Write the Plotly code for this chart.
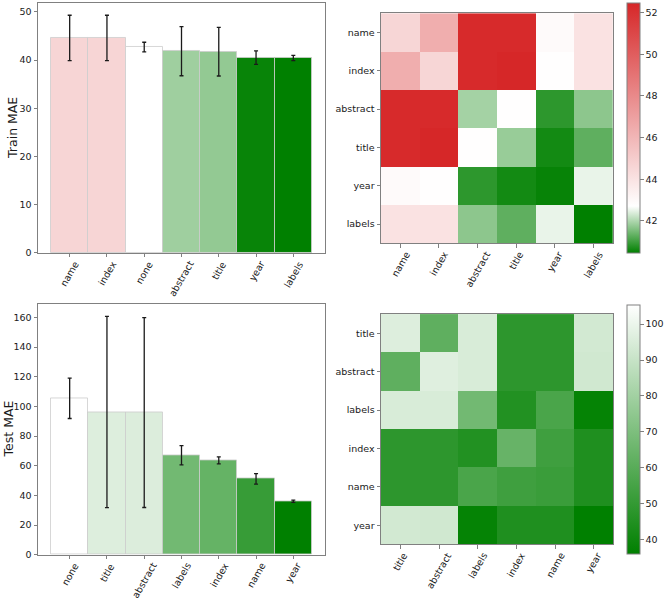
import plotly.graph_objects as go

# ---------------- data ----------------
train_order = ["name", "index", "none", "abstract", "title", "year", "labels"]
train_mae = [44.6, 44.6, 42.7, 41.85, 41.75, 40.52, 40.45]
train_err = [4.7, 4.7, 1.0, 5.1, 5.05, 1.4, 0.55]

test_order = ["none", "title", "abstract", "labels", "index", "name", "year"]
test_mae = [105.4, 96.2, 95.8, 67.0, 63.6, 51.1, 36.0]
test_err = [13.6, 64.5, 64.0, 6.5, 2.4, 3.6, 0.8]

train_feats = ["name", "index", "abstract", "title", "year", "labels"]
train_pair = [
    [44.55, 46.36, 52.30, 52.30, 42.92, 44.00],
    [46.36, 44.55, 52.30, 52.45, 42.75, 44.00],
    [52.30, 52.30, 41.90, 42.75, 40.85, 41.69],
    [52.30, 52.45, 42.75, 41.79, 40.62, 41.29],
    [42.92, 42.75, 40.85, 40.62, 40.51, 42.51],
    [44.00, 44.00, 41.69, 41.29, 42.51, 40.45],
]

test_feats = ["title", "abstract", "labels", "index", "name", "year"]
test_pair = [
    [96.2, 61.9, 94.8, 48.2, 48.2, 93.2],
    [61.9, 96.6, 94.8, 48.2, 48.2, 92.6],
    [94.8, 94.8, 67.0, 45.3, 56.1, 37.4],
    [48.2, 48.2, 45.3, 64.0, 53.1, 44.4],
    [48.2, 48.2, 56.1, 53.1, 51.8, 44.4],
    [93.2, 92.6, 37.4, 44.4, 44.4, 36.0],
]

# ---------------- styling ----------------
FONT = "DejaVu Sans"
TXT = "#1a1a1a"
SPINE = "#808080"
GREEN = "rgb(0,128,0)"
WHITE = "rgb(255,255,255)"
RED = "rgb(214,39,40)"
W, H = 665, 605


def px(x):
    return x / W


def py(y):
    return 1 - y / H


def scale_for(values_lists, none_val):
    allv = [v for vs in values_lists for v in vs]
    lo, hi = min(allv), max(max(allv), none_val)
    wpos = (none_val - lo) / (hi - lo)
    if wpos >= 0.999:
        cs = [[0, GREEN], [1, WHITE]]
    else:
        cs = [[0, GREEN], [wpos, WHITE], [1, RED]]
    return lo, hi, cs


none_train = train_mae[train_order.index("none")]
none_test = test_mae[test_order.index("none")]
tr_lo, tr_hi, tr_cs = scale_for([train_mae] + train_pair, none_train)
te_lo, te_hi, te_cs = scale_for([test_mae] + test_pair, none_test)

fig = go.Figure()

# bars
fig.add_trace(go.Bar(
    x=train_order, y=train_mae, width=1.0,
    marker=dict(color=train_mae, colorscale=tr_cs, cmin=tr_lo, cmax=tr_hi,
                line=dict(color="rgba(205,205,205,0.8)", width=1)),
    error_y=dict(type="data", array=train_err, color=TXT, thickness=1.3, width=2),
    xaxis="x", yaxis="y", showlegend=False,
))
fig.add_trace(go.Bar(
    x=test_order, y=test_mae, width=1.0,
    marker=dict(color=test_mae, colorscale=te_cs, cmin=te_lo, cmax=te_hi,
                line=dict(color="rgba(205,205,205,0.8)", width=1)),
    error_y=dict(type="data", array=test_err, color=TXT, thickness=1.3, width=2),
    xaxis="x3", yaxis="y3", showlegend=False,
))

cbfont = dict(family=FONT, size=9.5, color=TXT)
# heatmaps
fig.add_trace(go.Heatmap(
    z=train_pair, x=train_feats, y=train_feats,
    colorscale=tr_cs, zmin=tr_lo, zmax=tr_hi,
    xaxis="x2", yaxis="y2",
    colorbar=dict(x=px(627), xanchor="left", xpad=0, ypad=0,
                  y=py(3.3), yanchor="top", len=252 / H, lenmode="fraction",
                  thickness=13, outlinecolor=SPINE, outlinewidth=1,
                  ticks="outside", ticklen=3.5, tickcolor=SPINE, dtick=2, tick0=0,
                  tickfont=cbfont),
))
fig.add_trace(go.Heatmap(
    z=test_pair, x=test_feats, y=test_feats,
    colorscale=te_cs, zmin=te_lo, zmax=te_hi,
    xaxis="x4", yaxis="y4",
    colorbar=dict(x=px(627), xanchor="left", xpad=0, ypad=0,
                  y=py(307.3), yanchor="top", len=251.4 / H, lenmode="fraction",
                  thickness=13, outlinecolor=SPINE, outlinewidth=1,
                  ticks="outside", ticklen=3.5, tickcolor=SPINE, dtick=10, tick0=0,
                  tickfont=cbfont),
))

axcommon = dict(showline=True, linecolor=SPINE, linewidth=1, mirror=True,
                ticks="outside", ticklen=3.5, tickcolor=SPINE, tickwidth=1,
                showgrid=False, zeroline=False,
                tickfont=dict(family=FONT, size=9.5, color=TXT))

bx = [px(38), px(325)]
fig.update_layout(
    width=W, height=H, margin=dict(l=0, r=0, t=0, b=0),
    paper_bgcolor="white", plot_bgcolor="white", bargap=0,
    font=dict(family=FONT, color=TXT),
    xaxis=dict(domain=bx, anchor="y", type="category", range=[-0.85, 6.85],
               showticklabels=False, **axcommon),
    yaxis=dict(domain=[py(255), py(3)], anchor="x", range=[0, 51.85],
               dtick=10, **axcommon),
    xaxis3=dict(domain=bx, anchor="y3", type="category", range=[-0.85, 6.85],
                showticklabels=False, **axcommon),
    yaxis3=dict(domain=[py(559.3), py(307)], anchor="x3", range=[0, 168.7],
                dtick=20, **axcommon),
    xaxis2=dict(domain=[px(381), px(612.7)], anchor="y2", type="category",
                range=[-0.5, 5.5], showticklabels=False, **axcommon),
    yaxis2=dict(domain=[py(245.3), py(13.3)], anchor="x2", type="category",
                range=[5.5, -0.5], **axcommon),
    xaxis4=dict(domain=[px(381), px(613)], anchor="y4", type="category",
                range=[-0.5, 5.5], showticklabels=False, **axcommon),
    yaxis4=dict(domain=[py(549), py(316.7)], anchor="x4", type="category",
                range=[5.5, -0.5], **axcommon),
)

# rotated category labels (centered under ticks, like matplotlib rotation=60)
annots = []
for cats, xr in [(train_order, "x"), (test_order, "x3"), (train_feats, "x2"), (test_feats, "x4")]:
    yr = xr.replace("x", "y") + " domain"
    for c in cats:
        annots.append(dict(x=c, xref=xr, y=0, yref=yr, text=c, showarrow=False,
                           textangle=-60, xanchor="center", yanchor="top",
                           yshift=-5, borderpad=0,
                           font=dict(family=FONT, size=9.5, color=TXT)))

annots.append(dict(x=px(13), xref="paper", y=py(129), yref="paper", text="Train MAE",
                   textangle=-90, showarrow=False, xanchor="center", yanchor="middle",
                   font=dict(family=FONT, size=12.5, color=TXT)))
annots.append(dict(x=px(8), xref="paper", y=py(433), yref="paper", text="Test MAE",
                   textangle=-90, showarrow=False, xanchor="center", yanchor="middle",
                   font=dict(family=FONT, size=12.5, color=TXT)))
fig.update_layout(annotations=annots)

fig.write_html("out.html", config={"displayModeBar": False},
               post_script="document.body.style.margin='0px';document.body.style.overflow='hidden';")
